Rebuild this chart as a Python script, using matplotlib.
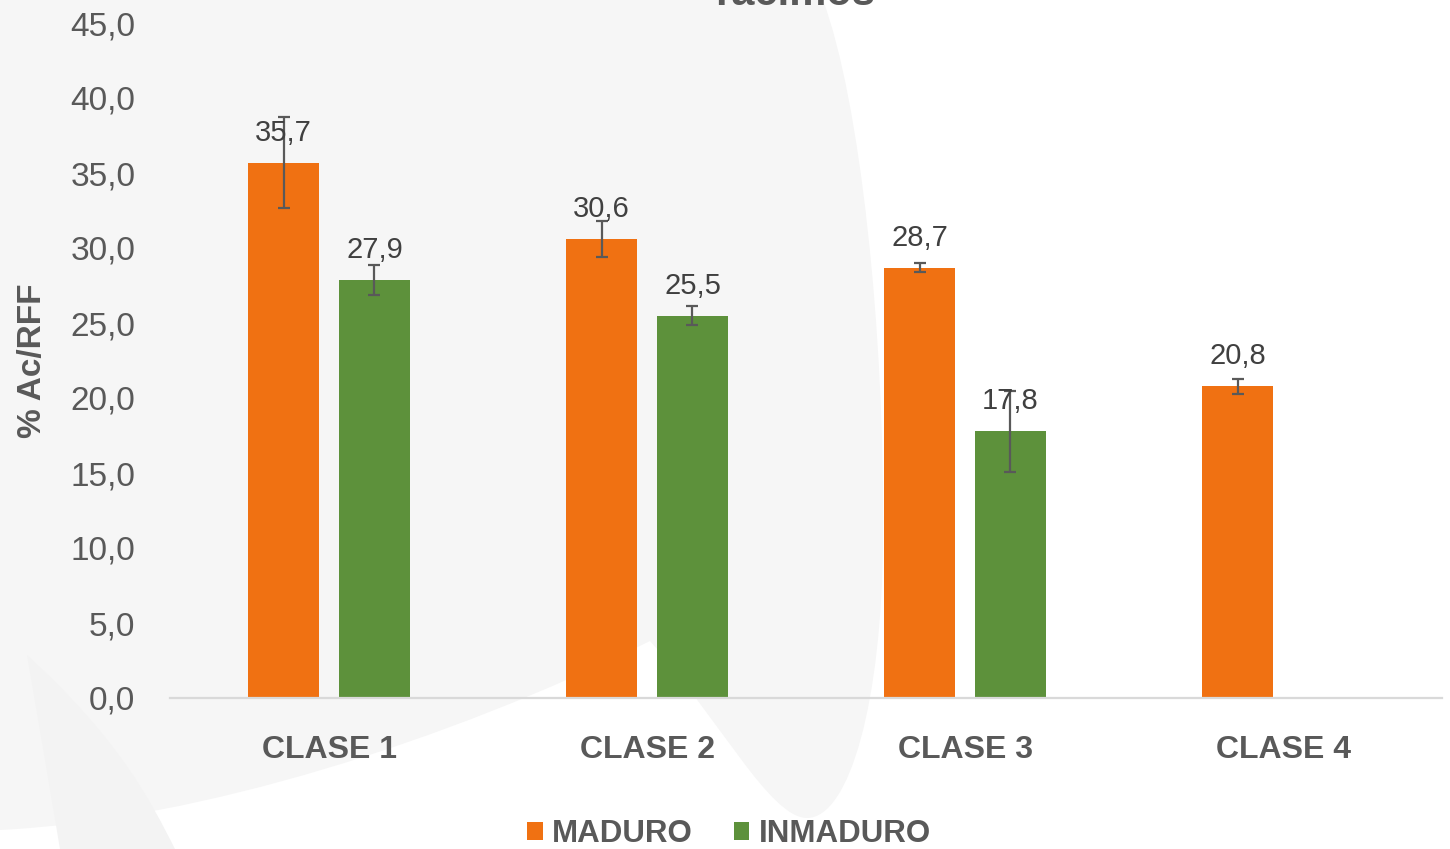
import numpy as np
import matplotlib
matplotlib.use("Agg")
import matplotlib.pyplot as plt
from matplotlib.path import Path
from matplotlib.patches import PathPatch

categorias = ["CLASE 1", "CLASE 2", "CLASE 3", "CLASE 4"]
maduro = [35.7, 30.6, 28.7, 20.8]
maduro_err = [3.05, 1.2, 0.3, 0.5]
inmaduro = [27.9, 25.5, 17.8, np.nan]   # no hay inmaduro en clase 4
inmaduro_err = [1.0, 0.65, 2.7, np.nan]
yticks = [0, 5, 10, 15, 20, 25, 30, 35, 40, 45]

NARANJA = "#F07112"
VERDE = "#5D913B"
GRIS = "#595959"
FUENTE = "Liberation Sans"
W, H = 1450, 849


def fmt(v):
    return f"{v:.1f}".replace(".", ",")


def px(x, y):
    # pixel coords (origin top-left) -> figure fraction
    return (x / W, 1 - y / H)


def fondo(fig, pts, codes, color):
    path = Path([px(*p) for p in pts], codes)
    fig.add_artist(PathPatch(path, facecolor=color, edgecolor="none",
                             transform=fig.transFigure, zorder=-5))


fig = plt.figure(figsize=(W / 100, H / 100), dpi=100)
fig.patch.set_facecolor("white")

# decorative background shapes
M, C, L, Z = Path.MOVETO, Path.CURVE4, Path.LINETO, Path.CLOSEPOLY
fondo(fig,
      [(0, 0), (823, 0),
       (860, 100), (885, 330), (883, 540),
       (882, 700), (850, 818), (807, 818),
       (770, 818), (720, 720), (650, 641),
       (450, 740), (200, 820), (0, 830),
       (0, 0)],
      [M, L, C, C, C, C, C, C, C, C, C, C, C, C, Z], "#f6f6f6")
fondo(fig,
      [(27, 655), (120, 740), (150, 800), (175, 849), (60, 849),
       (45, 760), (27, 655)],
      [M, C, C, C, L, L, Z], "#f3f3f3")

ax = fig.add_axes([170 / W, 1 - 698 / H, 1272 / W, 675 / H])
ax.set_facecolor("none")

x = np.arange(len(categorias))
off, ancho = 0.143, 0.223
ebar = dict(ecolor=GRIS, elinewidth=1.6, capsize=4, capthick=1.6)
b1 = ax.bar(x - off, maduro, ancho, color=NARANJA, yerr=maduro_err,
            error_kw=ebar, label="MADURO", zorder=2)
b2 = ax.bar(x + off, inmaduro, ancho, color=VERDE, yerr=inmaduro_err,
            error_kw=ebar, label="INMADURO", zorder=2)

for xs, vals in ((x - off, maduro), (x + off, inmaduro)):
    for xi, v in zip(xs, vals):
        if np.isnan(v):
            continue
        ax.annotate(fmt(v), (xi, v), xytext=(0, 15.5), textcoords="offset points",
                    ha="center", va="baseline", fontsize=21, color="#404040",
                    family=FUENTE, zorder=5)

ax.set_xlim(-0.5, 3.5)
ax.set_ylim(0, 45)
ax.set_yticks(yticks)
ax.set_yticklabels([fmt(v) for v in yticks], fontsize=24, color=GRIS, family=FUENTE)
ax.set_xticks(x)
ax.set_xticklabels(categorias, fontsize=23, color=GRIS, fontweight="bold",
                   family=FUENTE)
ax.tick_params(axis="y", length=0, pad=25)
ax.tick_params(axis="x", length=0, pad=27)
for s in ("top", "right", "left"):
    ax.spines[s].set_visible(False)
ax.spines["bottom"].set_color("#d9d9d9")
ax.spines["bottom"].set_linewidth(1.6)

ax.set_ylabel("% Ac/RFF", fontsize=24, fontweight="bold", color=GRIS,
              family=FUENTE)
ax.yaxis.set_label_coords(-0.0959, 0.5)

fig.text(795 / W, 1 - 5 / H, "racimos", ha="center", va="baseline",
         fontsize=30, fontweight="bold", color=GRIS, family=FUENTE)

fig.legend(handles=[b1, b2], loc="center", bbox_to_anchor=(729 / W, 1 - 834 / H),
           ncol=2, frameon=False, handlelength=0.5, handleheight=0.5,
           handletextpad=0.3, columnspacing=1.3,
           prop=dict(family=FUENTE, weight="bold", size=22.5),
           labelcolor=GRIS)

fig.savefig("out.png", dpi=100, facecolor=fig.get_facecolor())
